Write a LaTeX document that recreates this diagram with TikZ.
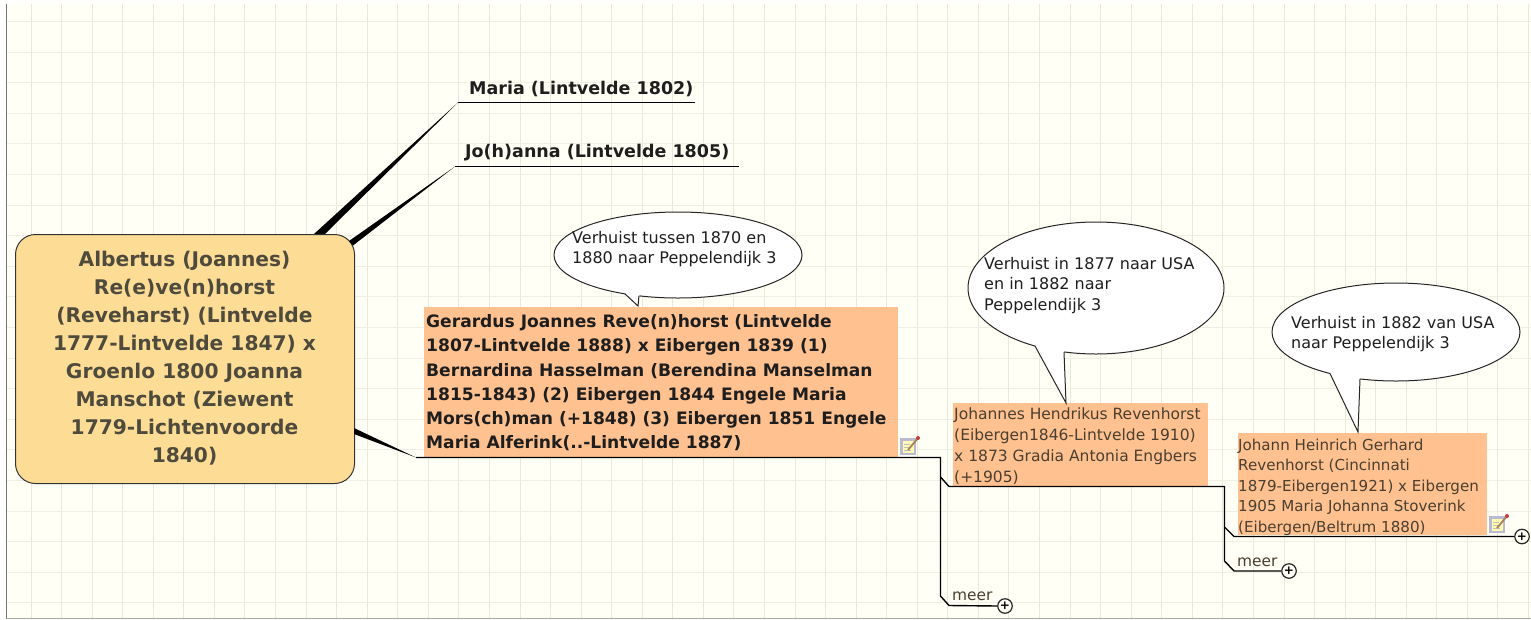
\documentclass[tikz,border=0pt]{standalone}
\usepackage{fontspec}
\setmainfont{DejaVu Sans}
\definecolor{paper}{HTML}{FFFFF5}
\definecolor{gridc}{HTML}{E8E8DD}
\definecolor{rootfill}{HTML}{FDDC96}
\definecolor{rootink}{HTML}{4F4B3C}
\definecolor{boxfill}{HTML}{FFC18F}
\definecolor{ink}{HTML}{1E1E1E}
\definecolor{softink}{HTML}{4A3F30}
\tikzset{
  x=1pt,y=-1pt,
  rootnode/.style={draw=black!80,line width=1pt,fill=rootfill,rounded corners=20pt,minimum width=339pt,minimum height=249pt,anchor=north west,inner sep=0pt},
  orangebox/.style={fill=boxfill,anchor=north west,inner sep=0pt},
  boxtext/.style={anchor=north west,inner sep=0pt,align=left},
  toptext/.style={anchor=base west,inner sep=0pt,font=\fontsize{17.5}{20}\selectfont\bfseries,text=ink},
  meertext/.style={anchor=base west,inner sep=0pt,font=\fontsize{15.4}{18}\selectfont,text=softink},
  branch/.style={draw=black,line width=1.4pt},
  taper/.style={fill=black},
  bubble/.style={draw=black!85,line width=1pt},
  bubbletext/.style={anchor=north west,inner sep=0pt,align=left,text=ink,font=\fontsize{16}{20.5}\selectfont},
  plusnode/.style={draw=black!85,fill=paper,circle,minimum size=14.5pt,inner sep=0pt,line width=1.2pt,font=\fontsize{12}{12}\selectfont\bfseries},
}
\newcommand{\noteicon}[2]{%
  \begin{scope}[shift={(#1,#2)}]
    \fill[blue!20!gray!45] (0,3) rectangle (16,20);
    \fill[yellow!30!white] (2.5,6) rectangle (14,18);
    \draw[black!25,line width=0.6pt] (4,9)--(10,9) (4,12)--(9,12) (4,15)--(11,15);
    \draw[brown!60!gray,line width=1.8pt] (8,15)--(18,3);
    \fill[red!50!gray] (18,3) circle (2);
  \end{scope}}
\newcommand{\speech}[7]{% cx cy rx ry, then base-left, tip, base-right as (..)
  \fill[white] (#1,#2) ellipse [x radius=#3, y radius=#4];
  \draw[bubble] (#1,#2) ellipse [x radius=#3, y radius=#4];
  \fill[white] #5 -- #6 -- #7 -- (#1,#2) -- cycle;
  \draw[bubble] #5 -- #6 -- #7;}
\begin{document}
\begin{tikzpicture}
\useasboundingbox (0,0) rectangle (1531,619);
\fill[white] (0,0) rectangle (1531,619);
\fill[paper] (6,4) rectangle (1531,618);
\foreach \i in {1,...,50} {
  \pgfmathsetmacro{\gx}{round(30.56*\i)+0.5}
  \draw[gridc,line width=1.3pt] (\gx,4) -- (\gx,618);}
\foreach \i in {0,...,19} {
  \pgfmathsetmacro{\gy}{round(21+30.6*\i)+0.5}
  \draw[gridc!70!paper,line width=1.7pt] (6,\gy) -- (1531,\gy);}
\draw[black!55,line width=1pt] (6.5,4) -- (6.5,618);
\draw[black!35,line width=1pt] (6,618.5) -- (1531,618.5);

% root
\node[rootnode] (root) at (15,234) {};
\node[align=center,inner sep=0pt,text=rootink,font=\fontsize{20.2}{28}\selectfont\bfseries] (roottext) at (184.5,358.5) {Albertus (Joannes)\\Re(e)ve(n)horst\\(Reveharst) (Lintvelde\\1777-Lintvelde 1847) x\\Groenlo 1800 Joanna\\Manschot (Ziewent\\1779-Lichtenvoorde\\1840)};

% top branches
\coordinate (k1) at (458,102.5); \coordinate (e1) at (695,102.5);
\coordinate (k2) at (455,166.5); \coordinate (e2) at (739,166.5);
\coordinate (k3) at (416,457.5);
\fill[taper] (314,234) -- (k1) -- (325,234) -- cycle;
\fill[taper] (349,241) -- (k2) -- (353,245.5) -- cycle;
\fill[taper] (354,428) -- (k3) -- (354,434) -- cycle;
\draw[branch] (k1) -- (e1);
\draw[branch] (k2) -- (e2);
\node[toptext] (maria) at (469,94) {Maria (Lintvelde 1802)};
\node[toptext] (johanna) at (465,157) {Jo(h)anna (Lintvelde 1805)};

% orange boxes
\node[orangebox,minimum width=474pt,minimum height=150pt] (box1) at (424,307) {};
\node[orangebox,minimum width=255pt,minimum height=83pt] (box2) at (953,403) {};
\node[orangebox,minimum width=249pt,minimum height=102pt] (box3) at (1238,433) {};
\node[boxtext,text=ink,font=\fontsize{17.1}{24.2}\selectfont\bfseries] (t1) at (426,314.5) {Gerardus Joannes Reve(n)horst (Lintvelde\\1807-Lintvelde 1888) x Eibergen 1839 (1)\\Bernardina Hasselman (Berendina Manselman\\1815-1843) (2) Eibergen 1844 Engele Maria\\Mors(ch)man (+1848) (3) Eibergen 1851 Engele\\Maria Alferink(..-Lintvelde 1887)};
\node[boxtext,text=softink,font=\fontsize{15.5}{21}\selectfont] (t2) at (954,408) {Johannes Hendrikus Revenhorst\\(Eibergen1846-Lintvelde 1910)\\x 1873 Gradia Antonia Engbers\\(+1905)};
\node[boxtext,text=softink,font=\fontsize{15.1}{20.5}\selectfont] (t3) at (1238,438.5) {Johann Heinrich Gerhard\\Revenhorst (Cincinnati\\1879-Eibergen1921) x Eibergen\\1905 Maria Johanna Stoverink\\(Eibergen/Beltrum 1880)};

% connectors
\node[plusnode] (p1) at (1005,606) {+};
\node[plusnode] (p2) at (1289,571) {+};
\node[plusnode] (p3) at (1522,536.5) {+};
\coordinate (j1) at (940.5,457.5);
\coordinate (j2) at (1224.5,486.5);
\draw[branch] (k3) -- (j1) -- (940.5,596) -- (949,605.5) -- (p1.west);
\draw[branch] (940.5,477) -- (949,486.5) -- (j2) -- (1224.5,561) -- (1234,571) -- (p2.west);
\draw[branch] (1224.5,527) -- (1234,536.5) -- (p3.west);
\node[meertext] (m1) at (952,600) {meer};
\node[meertext] (m2) at (1237,566) {meer};

% callouts
\speech{678}{255}{124}{43}{(625,293.9)}{(638,306)}{(639,295.8)}
\speech{1096}{288}{128}{66}{(1035,346)}{(1066,403)}{(1064,352)}
\speech{1396}{332}{124}{49}{(1330,373.5)}{(1358,432)}{(1360,378.9)}
\node[bubbletext] (b1) at (572,231) {Verhuist tussen 1870 en\\1880 naar Peppelendijk 3};
\node[bubbletext] (b2) at (984,257) {Verhuist in 1877 naar USA\\en in 1882 naar\\Peppelendijk 3};
\node[bubbletext] (b3) at (1291,316) {Verhuist in 1882 van USA\\naar Peppelendijk 3};

% icons
\noteicon{900}{435}
\noteicon{1489}{513}
\end{tikzpicture}
\end{document}
